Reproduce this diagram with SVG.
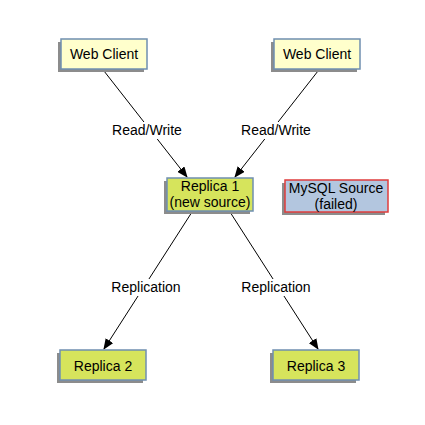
<svg xmlns="http://www.w3.org/2000/svg" width="425" height="425" viewBox="0 0 425 425">
<defs>
<marker id="arr" markerWidth="11" markerHeight="9" refX="10" refY="4.5" orient="auto" markerUnits="userSpaceOnUse">
<path d="M0,0 L11,4.5 L0,9 Z" fill="#000"/>
</marker>
</defs>
<style>
text{font-family:"Liberation Sans",Arial,sans-serif;font-size:14px;fill:#000;text-anchor:middle}
.sh{fill:#8c8c8c}
.wc{fill:#ffffcc;stroke:#6f8fb0;stroke-width:1.5}
.rp{fill:#d6e45c;stroke:#6f8fb0;stroke-width:1.5}
.ms{fill:#b3c6df;stroke:#e03c3c;stroke-width:1.5}
.e{stroke:#000;stroke-width:1;fill:none;marker-end:url(#arr)}
.lb{fill:#fff}
</style>
<g id="connectors">
<path class="e" d="M104,71 L187,177"/>
<path class="e" d="M318,71 L235,177"/>
<path class="e" d="M192,212 L104,349"/>
<path class="e" d="M230,212 L318,349"/>
<rect class="lb" x="111" y="122" width="72" height="17"/>
<text x="147" y="135">Read/Write</text>
<rect class="lb" x="240" y="122" width="72" height="17"/>
<text x="276" y="135">Read/Write</text>
<rect class="lb" x="109" y="279" width="74" height="17"/>
<text x="146" y="292">Replication</text>
<rect class="lb" x="239" y="279" width="74" height="17"/>
<text x="276" y="292">Replication</text>
</g>
<g id="webclient1">
<rect class="sh" x="58" y="42" width="86" height="30"/>
<rect class="wc" x="61" y="39" width="86" height="30"/>
<text x="104" y="59">Web Client</text>
</g>
<g id="webclient2">
<rect class="sh" x="271" y="42" width="86" height="30"/>
<rect class="wc" x="274" y="39" width="86" height="30"/>
<text x="317" y="59">Web Client</text>
</g>
<g id="replica1">
<rect class="sh" x="164" y="181" width="86" height="33"/>
<rect class="rp" x="167" y="178" width="86" height="33"/>
<text x="210" y="191">Replica 1</text>
<text x="210" y="207">(new source)</text>
</g>
<g id="mysqlsource">
<rect class="sh" x="282" y="183" width="103" height="32"/>
<rect class="ms" x="285" y="180" width="103" height="32"/>
<text x="336" y="193">MySQL Source</text>
<text x="336" y="209">(failed)</text>
</g>
<g id="replica2">
<rect class="sh" x="57" y="353" width="86" height="30"/>
<rect class="rp" x="60" y="350" width="86" height="30"/>
<text x="103" y="371">Replica 2</text>
</g>
<g id="replica3">
<rect class="sh" x="270" y="353" width="86" height="30"/>
<rect class="rp" x="273" y="350" width="86" height="30"/>
<text x="316" y="371">Replica 3</text>
</g>
</svg>
